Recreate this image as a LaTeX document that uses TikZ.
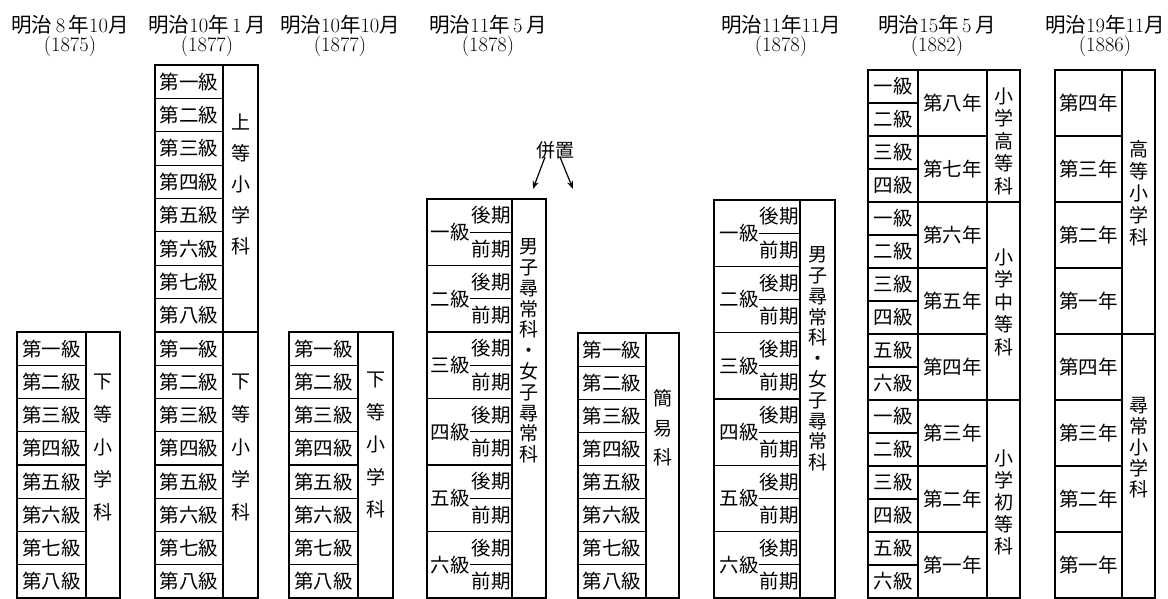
\documentclass[tikz,border=0pt]{standalone}
\usepackage{fontspec}
\newfontfamily\cjk{Noto Sans CJK JP}
\usetikzlibrary{arrows.meta}
\newcommand\jf{\cjk\fontsize{19.5}{22}\selectfont}
\tikzset{
 cell/.style={draw, line width=1.1pt, inner sep=0pt, font=\jf},
 frame/.style={draw, line width=1.8pt},
 lab/.style={inner sep=0pt, font=\jf},
 subline/.style={line width=1.1pt},
 vt/.style={inner sep=0pt, align=center, font=\cjk\fontsize{19}{#1}\selectfont},
 vt/.default=22,
 ttl/.style={inner sep=0pt, font=\fontsize{20.5}{20.5}\selectfont},
 arr/.style={line width=1.2pt, -{Stealth[length=8pt,width=6pt]}},
}
\begin{document}
\begin{tikzpicture}[x=1pt,y=-1pt]
\useasboundingbox (0,0) rectangle (1168,599);
% titles
\node[ttl] (t1) at (70,25) {{\cjk 明治}\,8\,{\cjk 年}10{\cjk 月}};
\node[ttl] (y1) at (70,46) {(1875)};
\node[ttl] (t2) at (207,25) {{\cjk 明治}10{\cjk 年}\,1\,{\cjk 月}};
\node[ttl] (y2) at (207,46) {(1877)};
\node[ttl] (t3) at (340,25) {{\cjk 明治}10{\cjk 年}10{\cjk 月}};
\node[ttl] (y3) at (340,46) {(1877)};
\node[ttl] (t4) at (488,25) {{\cjk 明治}11{\cjk 年}\,5\,{\cjk 月}};
\node[ttl] (y4) at (488,46) {(1878)};
\node[ttl] (t5) at (781,25) {{\cjk 明治}11{\cjk 年}11{\cjk 月}};
\node[ttl] (y5) at (781,46) {(1878)};
\node[ttl] (t6) at (937,25) {{\cjk 明治}15{\cjk 年}\,5\,{\cjk 月}};
\node[ttl] (y6) at (937,46) {(1882)};
\node[ttl] (t7) at (1105,25) {{\cjk 明治}19{\cjk 年}11{\cjk 月}};
\node[ttl] (y7) at (1105,46) {(1886)};
% column 1
\foreach \t [count=\i] in {第一級,第二級,第三級,第四級,第五級,第六級,第七級,第八級}
  \node[cell, minimum width=69pt, minimum height=33.25pt] (c1r\i) at (51.5,{332+33.25*(\i-0.5)}) {\t};
\node[cell, minimum width=34pt, minimum height=266pt] (c1s) at (103,465) {};
\node[vt=32.75] (c1v) at (103,447.5) {下\\等\\小\\学\\科};
\draw[frame] (c1r1.north west) rectangle (c1s.south east);
% column 2
\foreach \t [count=\i] in {第一級,第二級,第三級,第四級,第五級,第六級,第七級,第八級}{
  \node[cell, minimum width=68pt, minimum height=33.375pt] (c2u\i) at (189,{65+33.375*(\i-0.5)}) {\t};
  \node[cell, minimum width=68pt, minimum height=33.25pt] (c2l\i) at (189,{332+33.25*(\i-0.5)}) {\t};
}
\node[cell, minimum width=35pt, minimum height=267pt] (c2s) at (240.5,198.5) {};
\node[vt=31] (c2v) at (240.5,184) {上\\等\\小\\学\\科};
\node[cell, minimum width=35pt, minimum height=266pt] (c2t) at (240.5,465) {};
\node[vt=32.75] (c2w) at (240.5,447.5) {下\\等\\小\\学\\科};
\draw[frame] (c2u1.north west) rectangle (c2s.south east);
\draw[frame] (c2l1.north west) rectangle (c2t.south east);
% column 3
\foreach \t [count=\i] in {第一級,第二級,第三級,第四級,第五級,第六級,第七級,第八級}
  \node[cell, minimum width=69pt, minimum height=33.25pt] (c3r\i) at (323.5,{332+33.25*(\i-0.5)}) {\t};
\node[cell, minimum width=35pt, minimum height=266pt] (c3s) at (375.5,465) {};
\node[vt=32.5] (c3v) at (375.5,445) {下\\等\\小\\学\\科};
\draw[frame] (c3r1.north west) rectangle (c3s.south east);
% column 4
\foreach \t [count=\i] in {一級,二級,三級,四級,五級,六級}{
  \node[cell, minimum width=85pt, minimum height=66.5pt] (c4g\i) at (469.5,{199+66.5*(\i-0.5)}) {};
  \node[lab] (c4k\i) at (450,{199+66.5*(\i-0.5)}) {\t};
  \node[lab] (c4a\i) at (491,{199+66.5*(\i-0.75)}) {後期};
  \node[lab] (c4b\i) at (491,{199+66.5*(\i-0.25)}) {前期};
  \draw[subline] (c4k\i.east) -- (c4k\i.east -| c4g\i.east);
}
\node[cell, minimum width=34pt, minimum height=399pt] (c4s) at (529,398.5) {};
\node[vt=20.8] (c4v) at (529,351) {男\\子\\尋\\常\\科\\・\\女\\子\\尋\\常\\科};
\draw[frame] (c4g1.north west) rectangle (c4s.south east);
% heichi
\node[lab, font=\cjk\fontsize{19}{22}\selectfont] (hc) at (555,150) {併置};
\coordinate (h1) at (533,189);
\coordinate (h2) at (573,189);
\draw[arr] ([xshift=-10pt,yshift=2pt]hc.south) -- (h1);
\draw[arr] ([xshift=5pt,yshift=2pt]hc.south) -- (h2);
% column 5
\foreach \t [count=\i] in {第一級,第二級,第三級,第四級,第五級,第六級,第七級,第八級}
  \node[cell, minimum width=68pt, minimum height=33.125pt] (c5r\i) at (612,{333+33.125*(\i-0.5)}) {\t};
\node[cell, minimum width=33pt, minimum height=265pt] (c5s) at (662.5,465.5) {};
\node[vt=29.5] (c5v) at (662.5,428) {簡\\易\\科};
\draw[frame] (c5r1.north west) rectangle (c5s.south east);
% column 6
\foreach \t [count=\i] in {一級,二級,三級,四級,五級,六級}{
  \node[cell, minimum width=86pt, minimum height=66.33pt] (c6g\i) at (757,{200+66.33*(\i-0.5)}) {};
  \node[lab] (c6k\i) at (739,{200+66.33*(\i-0.5)}) {\t};
  \node[lab] (c6a\i) at (779,{200+66.33*(\i-0.75)}) {後期};
  \node[lab] (c6b\i) at (779,{200+66.33*(\i-0.25)}) {前期};
  \draw[subline] (c6k\i.east) -- (c6k\i.east -| c6g\i.east);
}
\node[cell, minimum width=35pt, minimum height=398pt] (c6s) at (817.5,399) {};
\node[vt=20.8] (c6v) at (817.5,359) {男\\子\\尋\\常\\科\\・\\女\\子\\尋\\常\\科};
\draw[frame] (c6g1.north west) rectangle (c6s.south east);
% column 7
\foreach \t [count=\i] in {一級,二級,三級,四級,一級,二級,三級,四級,五級,六級,一級,二級,三級,四級,五級,六級}
  \node[cell, minimum width=50pt, minimum height=33pt] (c7a\i) at (893,{70+33*(\i-0.5)}) {\t};
\foreach \t [count=\i] in {第八年,第七年,第六年,第五年,第四年,第三年,第二年,第一年}
  \node[cell, minimum width=69pt, minimum height=66pt] (c7b\i) at (952.5,{70+66*(\i-0.5)}) {\t};
\node[cell, minimum width=33pt, minimum height=132pt] (c7c) at (1003.5,136) {};
\node[cell, minimum width=33pt, minimum height=198pt] (c7d) at (1003.5,301) {};
\node[cell, minimum width=33pt, minimum height=198pt] (c7e) at (1003.5,499) {};
\node[vt=22.5] (c7u) at (1003.5,141) {小\\学\\高\\等\\科};
\node[vt=22.5] (c7v) at (1003.5,302) {小\\学\\中\\等\\科};
\node[vt=22] (c7w) at (1003.5,502) {小\\学\\初\\等\\科};
\draw[frame] (c7a1.north west) rectangle (c7c.south east);
\draw[frame] (c7a5.north west) rectangle (c7d.south east);
\draw[frame] (c7a11.north west) rectangle (c7e.south east);
% column 8
\foreach \t [count=\i] in {第四年,第三年,第二年,第一年,第四年,第三年,第二年,第一年}
  \node[cell, minimum width=67pt, minimum height=66pt] (c8r\i) at (1088.5,{70+66*(\i-0.5)}) {\t};
\node[cell, minimum width=33pt, minimum height=264pt] (c8a) at (1138.5,202) {};
\node[cell, minimum width=33pt, minimum height=264pt] (c8b) at (1138.5,466) {};
\node[vt=22] (c8u) at (1138.5,193) {高\\等\\小\\学\\科};
\node[vt=21] (c8v) at (1138.5,448) {尋\\常\\小\\学\\科};
\draw[frame] (c8r1.north west) rectangle (c8a.south east);
\draw[frame] (c8r5.north west) rectangle (c8b.south east);
\end{tikzpicture}
\end{document}
